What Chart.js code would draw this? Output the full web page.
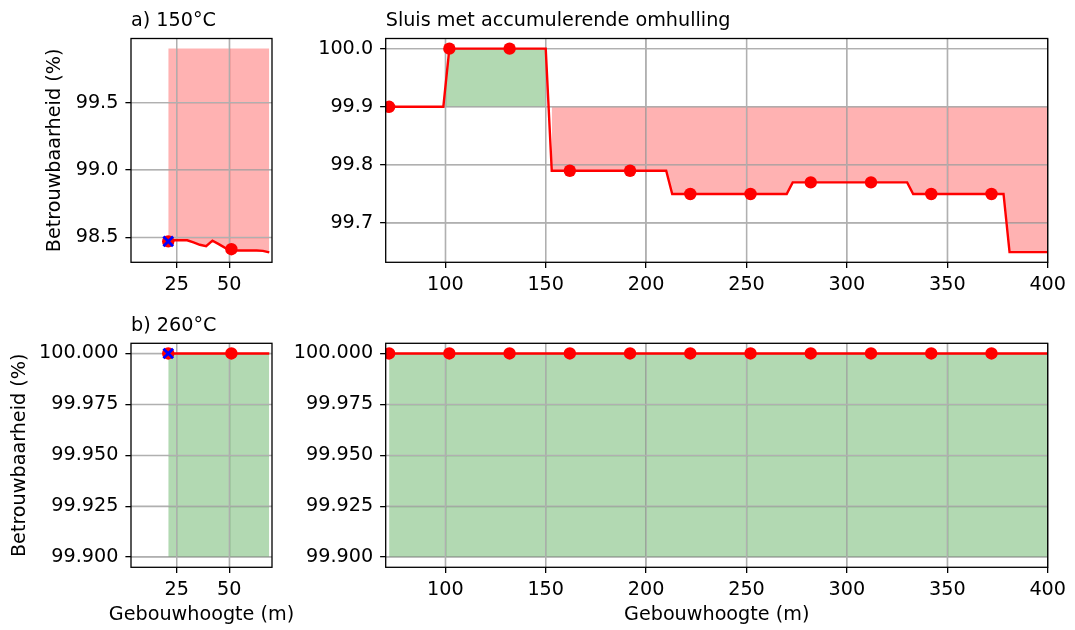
<!DOCTYPE html>
<html>
<head>
<meta charset="utf-8">
<script src="https://cdn.jsdelivr.net/npm/chart.js@4.4.0/dist/chart.umd.min.js"></script>
<style>
  body { margin: 0; background: #fff; }
  canvas { position: absolute; }
</style>
</head>
<body>
<canvas id="lt150" width="300" height="300" style="left:0;top:0"></canvas>
<canvas id="ht150" width="795" height="300" style="left:280px;top:0"></canvas>
<canvas id="lt260" width="300" height="330" style="left:0;top:300px"></canvas>
<canvas id="ht260" width="795" height="330" style="left:280px;top:300px"></canvas>
<script>
// eis voor de betrouwbaarheid (%)
const grens = 99.9;
// eerste hoogte van de reeks hoge gebouwen en de referentiehoogte (kruisje)
const startHoog = 72;
const kruisHoogte = 21;

// 150°C, lage gebouwen
const hoogte150Laag = [21, 24, 27, 30, 33, 36, 39, 42, 45, 48, 51, 54, 57, 60, 63, 66, 69];
const betr150Laag = [98.47, 98.478, 98.478, 98.478, 98.462, 98.445, 98.434, 98.476, 98.45, 98.422, 98.412, 98.402, 98.402, 98.402, 98.402, 98.4, 98.388];
const markHoogteLaag = [21, 51];
const markBetr150Laag = [98.47, 98.412];

// 150°C, hoge gebouwen
const hoogte150Hoog = [69, 72, 99, 102, 150, 153, 210, 213, 270, 273, 330, 333, 378, 381, 400];
const betr150Hoog = [99.9, 99.9, 99.9, 100.0, 100.0, 99.79, 99.79, 99.75, 99.75, 99.77, 99.77, 99.75, 99.75, 99.65, 99.65];
const markHoogteHoog = [72, 102, 132, 162, 192, 222, 252, 282, 312, 342, 372];
const markBetr150Hoog = [99.9, 100.0, 100.0, 99.79, 99.79, 99.75, 99.75, 99.77, 99.77, 99.75, 99.75];

// 260°C
const hoogte260Laag = [21, 69];
const betr260Laag = [100, 100];
const markBetr260Laag = [100, 100];
const hoogte260Hoog = [69, 72, 400];
const betr260Hoog = [100, 100, 100];
const markBetr260Hoog = [100, 100, 100, 100, 100, 100, 100, 100, 100, 100, 100];

// ticks
const xTicksLaag = [25, 50];
const xTicksHoog = [100, 150, 200, 250, 300, 350, 400];
const yTicks150Laag = [98.5, 99.0, 99.5];
const yTicks150Hoog = [99.7, 99.8, 99.9, 100.0];
const yTicks260 = [99.900, 99.925, 99.950, 99.975, 100.000];

const FONT = 19.2;
Chart.defaults.font.family = "'DejaVu Sans', sans-serif";
Chart.defaults.font.size = FONT;
Chart.defaults.color = '#000';

const punten = (xs, ys) => xs.map((x, i) => ({ x: x, y: ys[i] }));

// opeenvolgende stukken van de reeks boven of onder de eis
function stukken(xs, ys, vanaf) {
  const res = [];
  let huidig = null;
  xs.forEach((x, i) => {
    if (x < vanaf) return;
    const boven = ys[i] >= grens;
    if (!huidig || huidig.boven !== boven) {
      huidig = { boven: boven, data: [] };
      res.push(huidig);
    }
    huidig.data.push({ x: x, y: ys[i] });
  });
  return res;
}

// raster over de vulling heen, kader om het plotvlak, x-astitel zonder maxWidth
const rasterEnKader = {
  id: 'rasterEnKader',
  beforeDatasetDraw(chart, args) {
    if (chart.data.datasets[args.index].rol !== 'lijn') return;
    const { ctx, chartArea: a, scales: { x, y } } = chart;
    ctx.save();
    ctx.strokeStyle = '#b0b0b0';
    ctx.lineWidth = 1.3;
    ctx.beginPath();
    x.ticks.forEach(t => {
      const p = x.getPixelForValue(t.value);
      ctx.moveTo(p, a.top);
      ctx.lineTo(p, a.bottom);
    });
    y.ticks.forEach(t => {
      const p = y.getPixelForValue(t.value);
      ctx.moveTo(a.left, p);
      ctx.lineTo(a.right, p);
    });
    ctx.stroke();
    ctx.restore();
  },
  afterDraw(chart, args, opts) {
    const { ctx, chartArea: a } = chart;
    ctx.save();
    ctx.strokeStyle = '#000';
    ctx.lineWidth = 1.3;
    ctx.strokeRect(a.left, a.top, a.right - a.left, a.bottom - a.top);
    if (opts.xTitel) {
      ctx.fillStyle = '#000';
      ctx.font = FONT + "px 'DejaVu Sans', sans-serif";
      ctx.textAlign = 'center';
      ctx.textBaseline = 'middle';
      ctx.fillText(opts.xTitel, (a.left + a.right) / 2, chart.height - opts.xTitelPad);
    }
    ctx.restore();
  }
};

function paneel(id, c) {
  const datasets = [];
  if (c.kruis) {
    datasets.push({
      data: [c.kruis], showLine: false, pointStyle: 'crossRot',
      pointRadius: 6.8, pointBorderColor: 'blue', pointBorderWidth: 2.8
    });
  }
  datasets.push({
    data: c.markers, showLine: false, pointRadius: 6.2,
    pointBackgroundColor: 'red', pointBorderWidth: 0
  });
  datasets.push({
    rol: 'lijn', data: c.lijn, borderColor: 'red', borderWidth: 2.4,
    pointRadius: 0, fill: false
  });
  c.vulling.forEach(s => {
    datasets.push({
      data: s.data, borderColor: 'rgba(0,0,0,0)', borderWidth: 0, pointRadius: 0,
      fill: { value: grens },
      backgroundColor: s.boven ? 'rgba(0,128,0,0.3)' : 'rgba(255,0,0,0.3)'
    });
  });

  const grid = { color: '#b0b0b0', lineWidth: 1.3, tickColor: '#000', tickWidth: 1.3, tickLength: 5.6 };
  const titelHoogte = FONT * 1.2;

  new Chart(document.getElementById(id), {
    type: 'line',
    data: { datasets: datasets },
    options: {
      responsive: false,
      animation: false,
      events: [],
      layout: { padding: { right: c.rechts, top: c.titel ? 0 : c.boven } },
      plugins: {
        legend: { display: false },
        tooltip: { enabled: false },
        title: {
          display: !!c.titel, text: c.titel, align: 'start', fullSize: false,
          font: { size: FONT, weight: 'normal' }, color: '#000',
          padding: { top: c.titelBoven, bottom: c.boven - c.titelBoven - titelHoogte }
        },
        rasterEnKader: { xTitel: c.xTitel, xTitelPad: 14.9 }
      },
      scales: {
        x: {
          type: 'linear', min: c.xMin, max: c.xMax,
          afterFit: s => { s.height = c.xHoogte; },
          afterBuildTicks: s => { s.ticks = c.xTicks.map(v => ({ value: v })); },
          ticks: { autoSkip: false, maxRotation: 0, padding: 5.8 },
          grid: grid,
          border: { display: false }
        },
        y: {
          type: 'linear', min: c.yMin, max: c.yMax,
          afterFit: s => { s.width = c.yBreedte; },
          afterBuildTicks: s => { s.ticks = c.yTicks.map(v => ({ value: v })); },
          ticks: { autoSkip: false, padding: 7, callback: v => v.toFixed(c.decimalen) },
          grid: grid,
          border: { display: false },
          title: { display: !!c.yTitel, text: c.yTitel, padding: { top: c.yTitelPad } }
        }
      }
    },
    plugins: [rasterEnKader]
  });
}

paneel('lt150', {
  titel: 'a) 150°C', boven: 38.5, titelBoven: 9.3, rechts: 28, xHoogte: 37.7, yBreedte: 131,
  xMin: 3.3, xMax: 70.3, yMin: 98.315, yMax: 99.975, xTicks: xTicksLaag, yTicks: yTicks150Laag, decimalen: 1,
  yTitel: 'Betrouwbaarheid (%)', yTitelPad: 43.8,
  lijn: punten(hoogte150Laag, betr150Laag),
  markers: punten(markHoogteLaag, markBetr150Laag),
  kruis: { x: kruisHoogte, y: betr150Laag[hoogte150Laag.indexOf(kruisHoogte)] },
  vulling: stukken(hoogte150Laag, betr150Laag, kruisHoogte)
});

paneel('ht150', {
  titel: 'Sluis met accumulerende omhulling', boven: 38.5, titelBoven: 9.3, rechts: 27.3, xHoogte: 37.7, yBreedte: 105.7,
  xMin: 70.3, xMax: 400, yMin: 99.6325, yMax: 100.0175, xTicks: xTicksHoog, yTicks: yTicks150Hoog, decimalen: 1,
  lijn: punten(hoogte150Hoog, betr150Hoog),
  markers: punten(markHoogteHoog, markBetr150Hoog),
  vulling: stukken(hoogte150Hoog, betr150Hoog, startHoog)
});

paneel('lt260', {
  titel: 'b) 260°C', boven: 43.3, titelBoven: 14.3, rechts: 28, xHoogte: 62.7, yBreedte: 131,
  xMin: 3.3, xMax: 70.3, yMin: 99.895, yMax: 100.005, xTicks: xTicksLaag, yTicks: yTicks260, decimalen: 3,
  yTitel: 'Betrouwbaarheid (%)', yTitelPad: 8.0, xTitel: 'Gebouwhoogte (m)',
  lijn: punten(hoogte260Laag, betr260Laag),
  markers: punten(markHoogteLaag, markBetr260Laag),
  kruis: { x: kruisHoogte, y: betr260Laag[0] },
  vulling: stukken(hoogte260Laag, betr260Laag, kruisHoogte)
});

paneel('ht260', {
  titel: '', boven: 43.3, rechts: 27.3, xHoogte: 62.7, yBreedte: 105.7,
  xMin: 70.3, xMax: 400, yMin: 99.895, yMax: 100.005, xTicks: xTicksHoog, yTicks: yTicks260, decimalen: 3,
  xTitel: 'Gebouwhoogte (m)',
  lijn: punten(hoogte260Hoog, betr260Hoog),
  markers: punten(markHoogteHoog, markBetr260Hoog),
  vulling: stukken(hoogte260Hoog, betr260Hoog, startHoog)
});
</script>
</body>
</html>
